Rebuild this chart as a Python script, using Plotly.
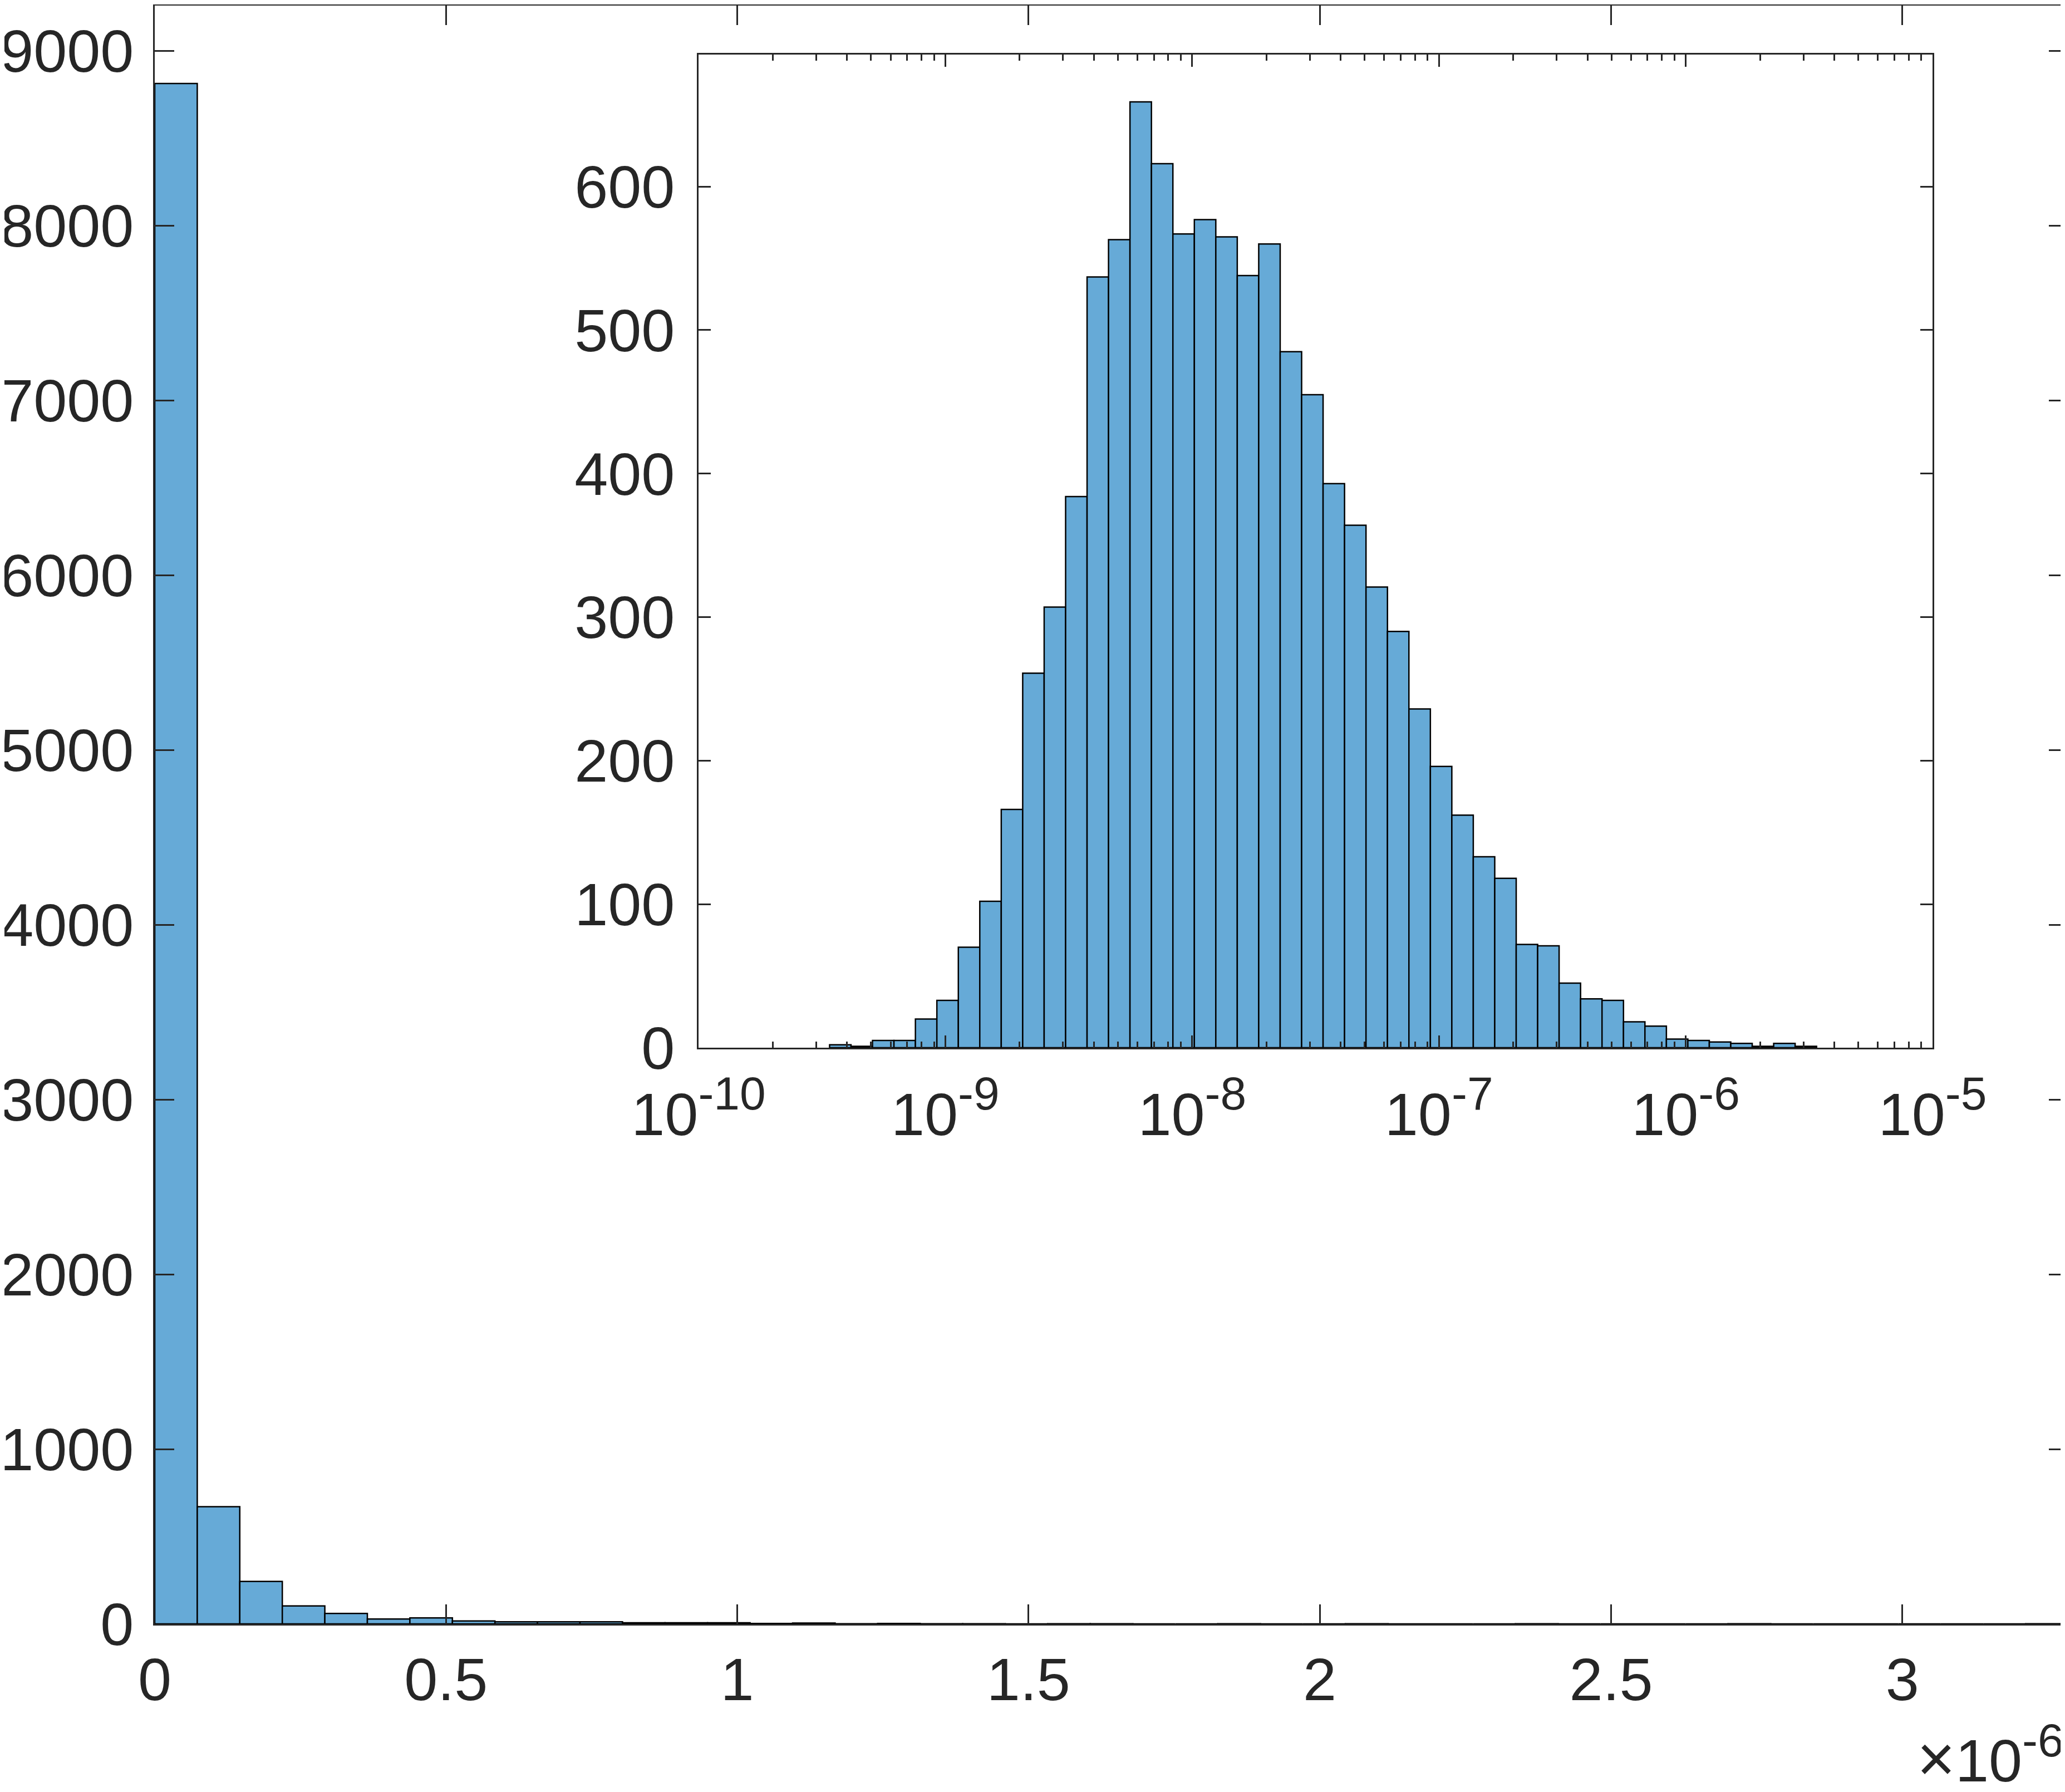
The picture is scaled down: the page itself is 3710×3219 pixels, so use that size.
import numpy as np
import plotly.graph_objects as go

# ---------------- data ----------------
# main histogram (linear x, shown in units of 1e-6 via the x10^-6 note)
main_bin_width = 0.073e-6
main_counts = [8812, 670, 243, 103, 60, 28, 34, 17, 12, 12, 12, 6, 6, 6, 2, 5,
               1, 2, 1, 1, 0, 1, 1, 0, 0, 1, 0, 0, 1, 0, 0, 0, 1, 0, 0, 0,
               0, 1, 0, 0, 0, 0, 0, 0, 1]
main_xticks = [0, 0.5e-6, 1.0e-6, 1.5e-6, 2.0e-6, 2.5e-6, 3.0e-6]
main_xticklabels = ["0", "0.5", "1", "1.5", "2", "2.5", "3"]
main_yticks = [0, 1000, 2000, 3000, 4000, 5000, 6000, 7000, 8000, 9000]

# inset histogram (log-spaced bins, given as log10 exponents)
inset_first_edge_exp = -9.469
inset_bin_width_dec = 0.08694
inset_counts = [2, 1, 5, 5, 20, 33, 70, 102, 166, 261, 307, 384, 537, 563, 659,
                616, 567, 577, 565, 538, 560, 485, 455, 393, 364, 321, 290, 236,
                196, 162, 133, 118, 72, 71, 45, 34, 33, 18, 15, 6, 5, 4, 3, 1, 3, 1]
inset_decades = [-10, -9, -8, -7, -6, -5]
inset_exponents = ["-10", "-9", "-8", "-7", "-6", "-5"]
inset_yticks = [0, 100, 200, 300, 400, 500, 600]

# ---------------- styling ----------------
FONT = "Liberation Sans, Arial, Helvetica, sans-serif"
TXT = "#262626"
FILL = "#66AAD7"
FS = 108
SUP = 84

def power_label(exp):
    return "10<sup><span style=\"font-size:%dpx\">%s</span></sup>" % (SUP, exp)

inset_xticklabels = [power_label(e) for e in inset_exponents]

# ---------------- derived positions ----------------
n_main = len(main_counts)
main_centers = [(i + 0.5) * main_bin_width for i in range(n_main)]
main_xmax = n_main * main_bin_width

n_in = len(inset_counts)
inset_centers = [inset_first_edge_exp + (i + 0.5) * inset_bin_width_dec for i in range(n_in)]
minor_vals = [d + np.log10(k) for d in inset_decades[:-1] for k in range(2, 10)]

fig = go.Figure()
fig.add_trace(go.Bar(x=main_centers, y=main_counts, width=[main_bin_width] * n_main,
                     marker=dict(color=FILL, line=dict(color="black", width=2.5)),
                     xaxis="x", yaxis="y", showlegend=False))
fig.add_trace(go.Bar(x=inset_centers, y=inset_counts, width=[inset_bin_width_dec] * n_in,
                     marker=dict(color=FILL, line=dict(color="black", width=2.5)),
                     xaxis="x2", yaxis="y2", showlegend=False))

axis_common = dict(showline=True, linecolor=TXT, linewidth=3, mirror="ticks",
                   ticks="inside", tickcolor=TXT, tickwidth=2.5, showgrid=False,
                   zeroline=False, tickfont=dict(family=FONT, size=FS, color=TXT))

W, H = 3710, 3219
ml, mr, mt, mb = 270, 2, 2, 310
pw, ph = W - ml - mr, H - mt - mb

def xdom(a, b):
    return [(a - ml) / pw, (b - ml) / pw]

def ydom(top, bottom):
    return [(H - mb - bottom) / ph, (H - mb - top) / ph]

fig.update_layout(
    width=W, height=H,
    margin=dict(l=ml, r=mr, t=mt, b=mb, autoexpand=False),
    paper_bgcolor="white", plot_bgcolor="white",
    barmode="overlay",
    xaxis=dict(axis_common, range=[0, main_xmax], tickvals=main_xticks,
               ticktext=main_xticklabels, ticklen=35, domain=[0, 1], anchor="y",
               ticklabelstandoff=4),
    yaxis=dict(axis_common, range=[0, 9258], tickvals=main_yticks, ticklen=35,
               domain=[0, 1], anchor="x", ticklabelstandoff=13),
    xaxis2=dict(axis_common, range=[-10, -5], tickvals=inset_decades,
                ticktext=inset_xticklabels, ticklen=22, mirror="allticks",
                minor=dict(tickvals=minor_vals, ticks="inside", ticklen=11,
                           tickwidth=2.5, tickcolor=TXT, showgrid=False),
                domain=xdom(1247, 3464), anchor="y2", ticklabelstandoff=24),
    yaxis2=dict(axis_common, range=[0, 692], tickvals=inset_yticks, ticklen=22,
                domain=ydom(90, 1874), anchor="x2", ticklabelstandoff=18),
    annotations=[dict(text="<span style=\"font-size:118px\">\u00d7</span>10"
                           "<sup><span style=\"font-size:%dpx\">-6</span></sup>" % SUP,
                      xref="paper", yref="paper",
                      x=1, xshift=-6, y=(-(3219 - (H - mb)) / ph),
                      xanchor="right", yanchor="bottom",
                      showarrow=False, font=dict(family=FONT, size=FS, color=TXT))],
)

fig.write_html("out.html")
